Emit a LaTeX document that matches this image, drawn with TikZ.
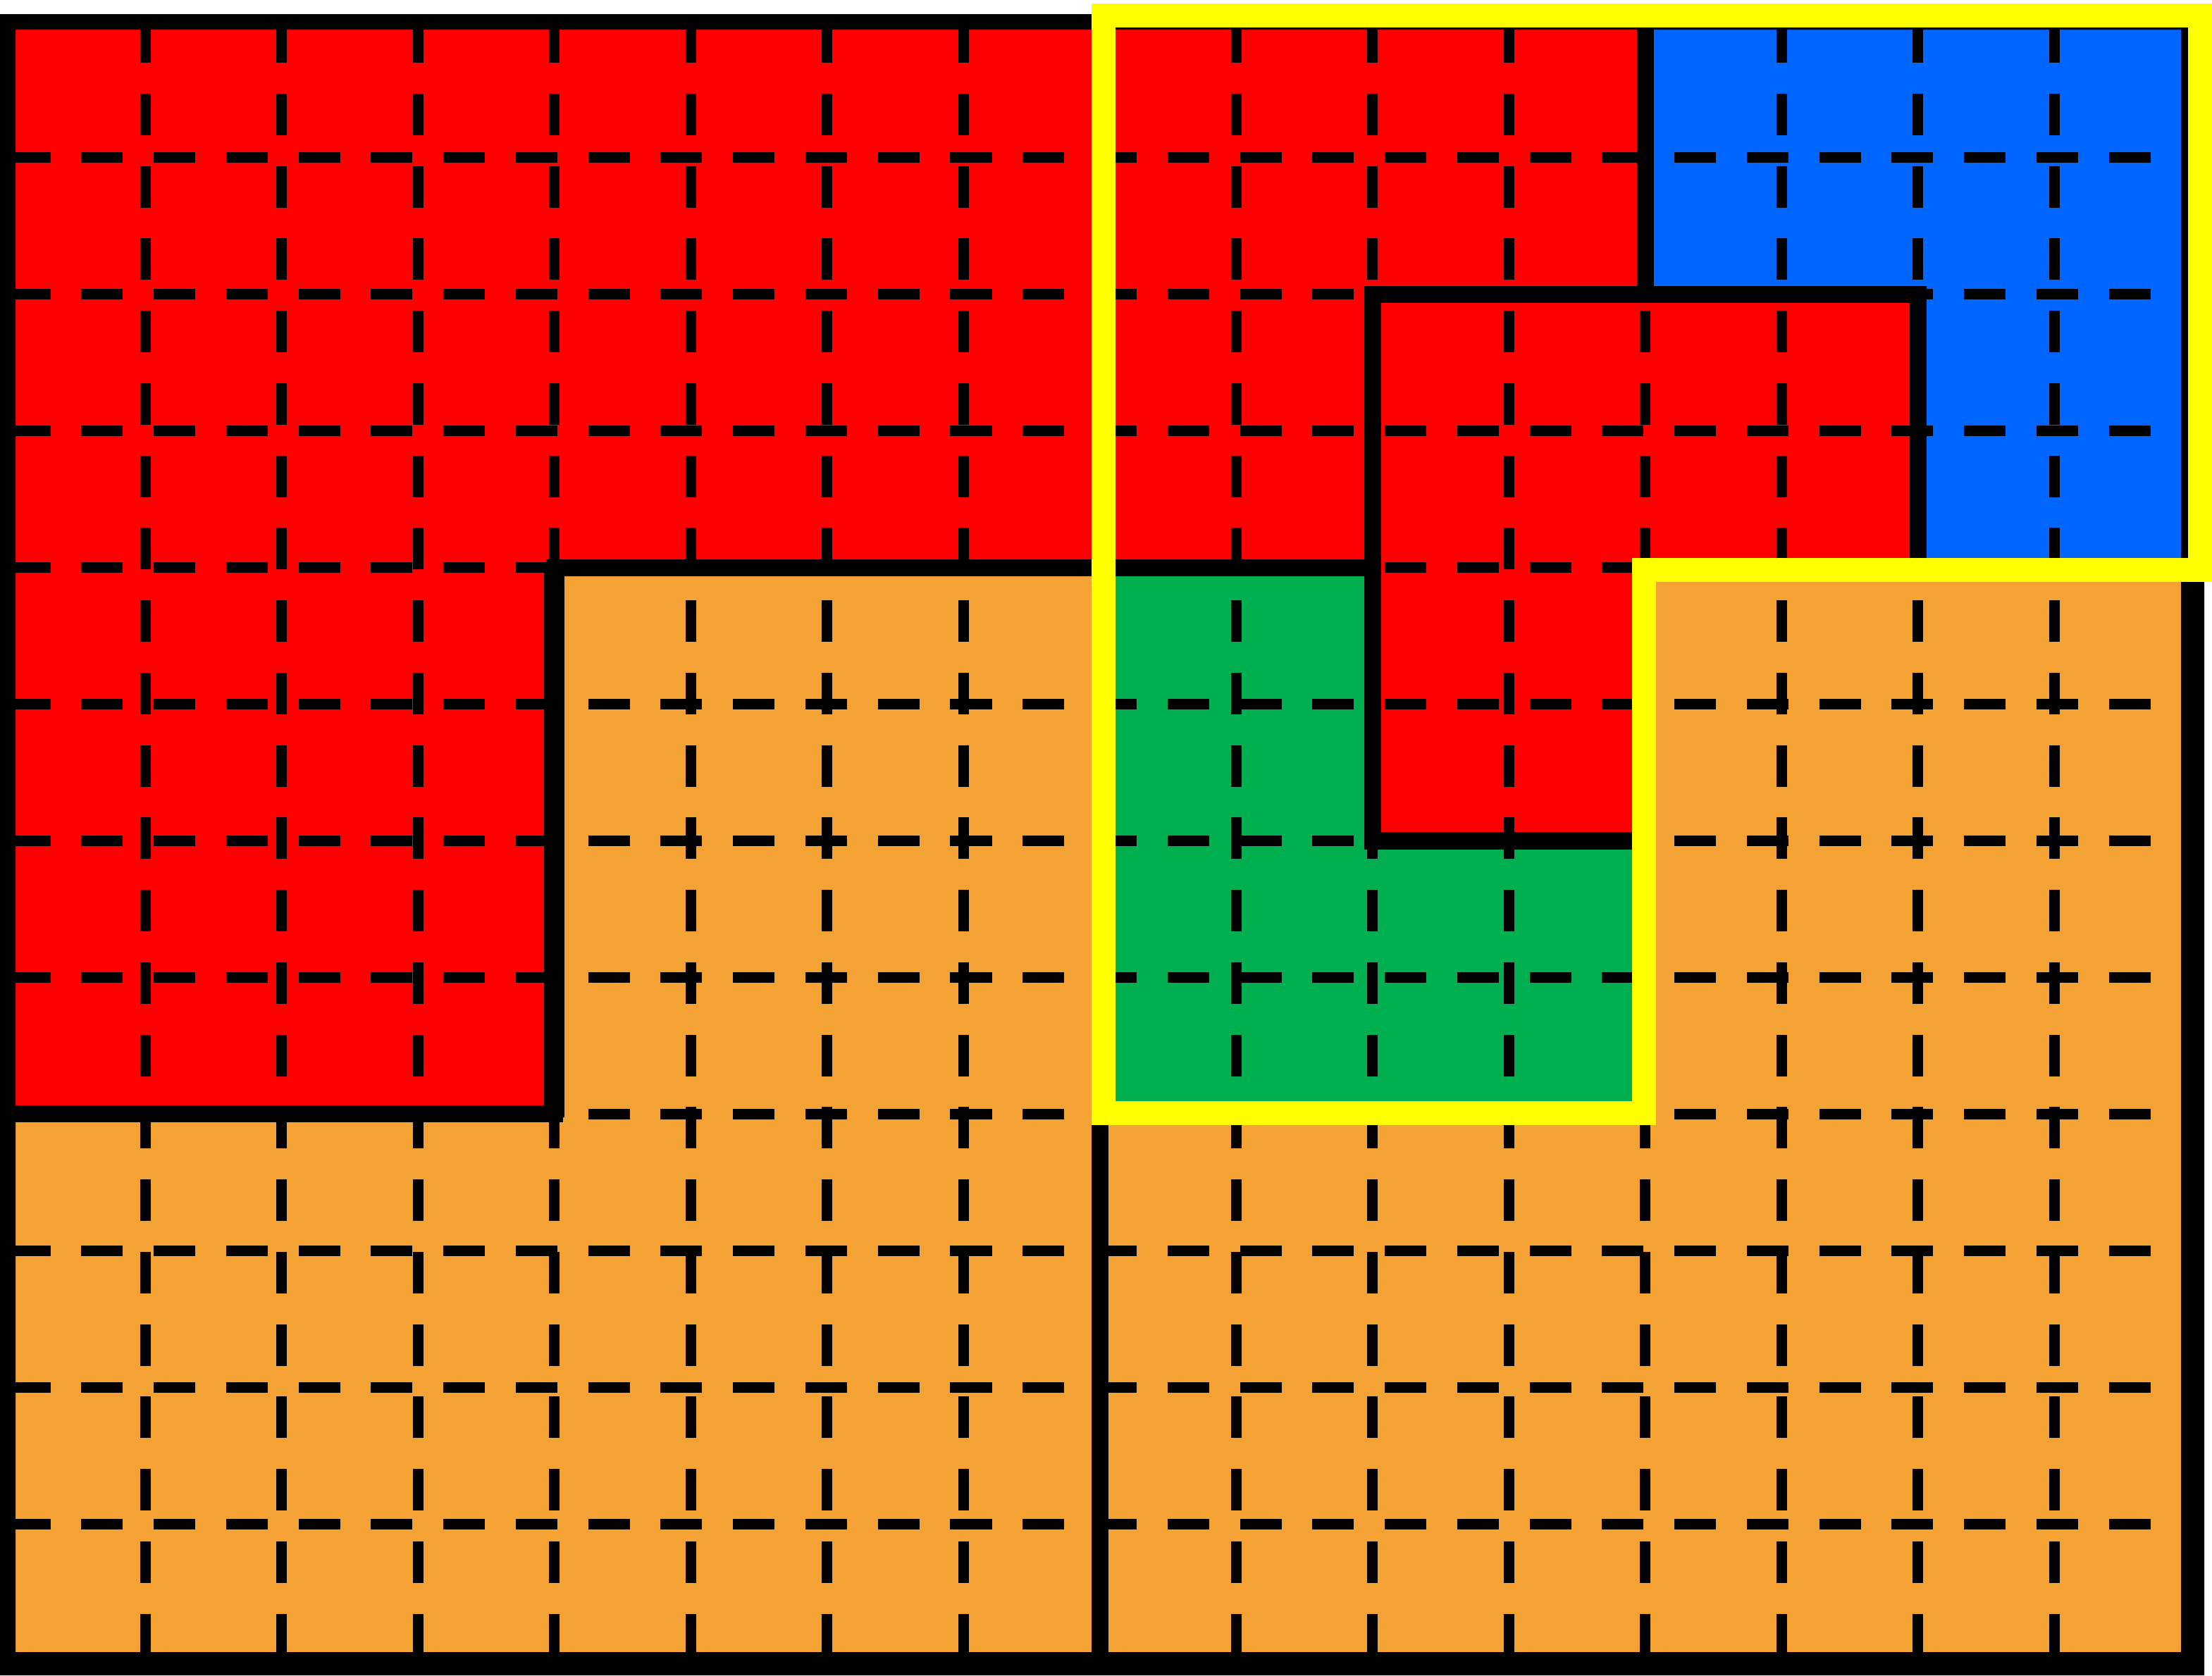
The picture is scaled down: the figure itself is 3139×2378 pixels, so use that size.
\documentclass[tikz,border=0pt]{standalone}
\definecolor{cred}{RGB}{255,0,0}
\definecolor{cblue}{RGB}{0,102,255}
\definecolor{cgreen}{RGB}{0,176,80}
\definecolor{corange}{RGB}{244,162,51}
\definecolor{cyellow}{RGB}{255,255,0}
\tikzset{
  gridline/.style={black, line width=0.15cm, dash pattern=on 0.59cm off 0.437cm},
  wall/.style={black, line width=0.24cm, line cap=rect, line join=miter},
  outline/.style={cyellow, line width=0.34cm, line join=miter},
}
\begin{document}
\begin{tikzpicture}[x=0.01cm, y=-0.01cm]
  \useasboundingbox (0,0) rectangle (3139,2378);
  \fill[white] (0,0) rectangle (3139,2378);
  \begin{scope}[shift={(12.6,30)}, x=1.934cm, y=-1.938cm]
    % regions
    \fill[cred] (0,0) rectangle (12,2);
    \fill[cred] (0,2) rectangle (14,4);
    \fill[cred] (0,4) rectangle (4,8);
    \fill[cred] (10,4) rectangle (12,6);
    \fill[cblue] (12,0) rectangle (16,2);
    \fill[cblue] (14,2) rectangle (16,4);
    \fill[cgreen] (8,4) rectangle (10,6);
    \fill[cgreen] (8,6) rectangle (12,8);
    \fill[corange] (4,4) rectangle (8,8);
    \fill[corange] (12,4) rectangle (16,8);
    \fill[corange] (0,8) rectangle (16,12);
    % dashed grid
    \foreach \i in {1,...,15} { \draw[gridline] (\i,0) -- (\i,12); }
    \foreach \j in {1,...,11} { \draw[gridline] (0,\j) -- (16,\j); }
    % thick boundaries
    \draw[wall] (0,8) -- (4,8) -- (4,4) -- (10,4);
    \draw[wall, line width=0.29cm] (4,4.05) -- (4,7.95);
    \draw[wall] (8,0) -- (8,12);
    \draw[wall] (12,0) -- (12,2);
    \draw[wall] (14,4) -- (14,2) -- (10,2) -- (10,6) -- (12,6);
    \draw[wall] (12,4) -- (12,8) -- (8,8);
    \draw[wall] (12,4) -- (16,4);
  \end{scope}
  % outer frame
  \fill[black, even odd rule] (0,20) rectangle (3128,2378) (22,42) rectangle (3095,2345);
  % yellow outline
  \draw[outline] (1566,22) -- (3122,22) -- (3122,809) -- (2333,809) -- (2333,1580) -- (1566,1580) -- cycle;
\end{tikzpicture}
\end{document}
